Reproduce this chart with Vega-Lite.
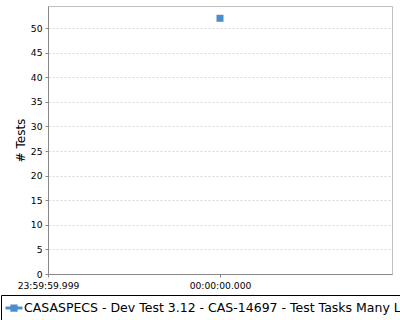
{
  "$schema": "https://vega.github.io/schema/vega-lite/v6.json",
  "autosize": {"type": "none"},
  "width": 344,
  "height": 268,
  "padding": {"left": 48, "top": 6, "right": 8, "bottom": 46},
  "background": "white",
  "config": {
    "view": {"stroke": "#c0c0c0", "strokeWidth": 1},
    "font": "DejaVu Sans"
  },
  "data": {
    "values": [
      {"time": "2020-01-01T00:00:00.000Z", "tests": 52, "series": "CASASPECS - Dev Test 3.12 - CAS-14697 - Test Tasks Many Lines"}
    ]
  },
  "mark": {"type": "point", "shape": "square", "filled": true, "size": 49, "opacity": 1},
  "encoding": {
    "x": {
      "field": "time",
      "type": "temporal",
      "scale": {"type": "utc", "domain": [1577836799999, 1577836800001], "nice": false},
      "axis": {
        "title": null,
        "values": [1577836799999, 1577836800000],
        "labelExpr": "utcFormat(datum.value, '%H:%M:%S.%L')",
        "grid": false,
        "domainColor": "#888888",
        "tickColor": "#888888",
        "tickSize": 3,
        "labelFontSize": 9.2,
        "labelColor": "#000000",
        "labelPadding": 4,
        "labelFont": "DejaVu Sans",
        "labelOverlap": false,
        "labelFlush": false
      }
    },
    "y": {
      "field": "tests",
      "type": "quantitative",
      "scale": {"domain": [0, 54.5], "nice": false, "zero": true},
      "axis": {
        "title": "# Tests",
        "values": [0, 5, 10, 15, 20, 25, 30, 35, 40, 45, 50],
        "grid": true,
        "gridDash": [2, 2],
        "gridColor": "#d9d9d9",
        "domainColor": "#888888",
        "tickColor": "#888888",
        "tickSize": 3,
        "labelFontSize": 9.2,
        "labelFont": "DejaVu Sans",
        "labelColor": "#000000",
        "labelPadding": 3,
        "titleFontSize": 12,
        "titleFontWeight": "normal",
        "titleColor": "#000000",
        "titlePadding": 3,
        "titleFont": "DejaVu Sans"
      }
    },
    "color": {
      "field": "series",
      "type": "nominal",
      "scale": {"range": ["#4a8fcb"]},
      "legend": {
        "title": null,
        "orient": "none",
        "legendX": -47,
        "legendY": 289,
        "strokeColor": "#000000",
        "padding": 3,
        "symbolType": "M-1,0H1M-0.25,-0.25H0.25V0.25H-0.25Z",
        "symbolSize": 289,
        "symbolStrokeWidth": 3,
        "symbolFillColor": "#4a8fcb",
        "symbolStrokeColor": "#4a8fcb",
        "labelFontSize": 12.5,
        "labelFont": "DejaVu Sans",
        "labelColor": "#000000",
        "labelLimit": 0,
        "labelOffset": 0
      }
    }
  }
}
